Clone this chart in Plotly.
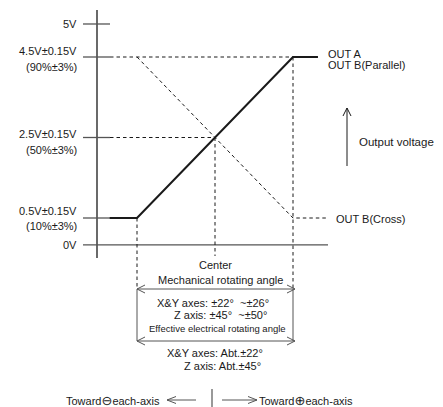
import plotly.graph_objects as go

# ---------------- data (schematic units) ----------------
# x: rotation angle, normalised so the effective electrical angle ends are at -1 / +1
# y: output voltage level positions on the diagram
level_names = ["0V", "0.5V", "2.5V", "4.5V", "5V"]
level_pos = [-0.17, 0.5, 2.5, 4.5, 5.32]
level_text1 = ["0V", "0.5V±0.15V", "2.5V±0.15V", "4.5V±0.15V", "5V"]
level_text2 = ["", "(10%±3%)", "(50%±3%)", "(90%±3%)", ""]

out_a_x = [-1.35, -1.0, 1.0, 1.32]
out_a_y = [0.5, 0.5, 4.5, 4.5]

out_b_cross_x = [-1.0, 1.0, 1.45]
out_b_cross_y = [4.5, 0.5, 0.5]

elec_angle = [-1.0, 1.0]
center_angle = 0.0

# ---------------- pixel helpers for layout ----------------
W, H = 443, 407
X0PX, XSC = 215.0, 78.0      # px of x=0, px per unit
Y0PX, YSC = 218.0, 40.25     # px of y=0.5, px per volt


def ux(px):
    return (px - X0PX) / XSC


def vy(py):
    return 0.5 + (Y0PX - py) / YSC


FONT = "Liberation Sans, Arial, sans-serif"
INK = "#1a1a1a"
GRAY = "#555555"

fig = go.Figure()

shapes = []


def line(x0, y0, x1, y1, color=INK, width=1.0, dash="solid"):
    shapes.append(dict(type="line", xref="x", yref="y", x0=x0, y0=y0, x1=x1, y1=y1,
                       line=dict(color=color, width=width, dash=dash), layer="below"))


def chevron(xt, yt, dx, dy, color=INK, width=1.0, L=8, Hh=4):
    # open arrowhead with tip at (xt, yt) pointing in pixel direction (dx, dy)
    import math
    n = math.hypot(dx, dy)
    dx, dy = dx / n, dy / n
    tx = X0PX + xt * XSC
    ty = Y0PX - (yt - 0.5) * YSC
    bx, by = tx - dx * L, ty - dy * L
    px_, py_ = -dy, dx
    p1 = (bx + px_ * Hh, by + py_ * Hh)
    p2 = (bx - px_ * Hh, by - py_ * Hh)
    path = "M {} {} L {} {} L {} {}".format(ux(p1[0]), vy(p1[1]), xt, yt, ux(p2[0]), vy(p2[1]))
    shapes.append(dict(type="path", xref="x", yref="y", path=path,
                       line=dict(color=color, width=width)))


axis_x = ux(97)
tick_l, tick_r = ux(83), ux(110)

# vertical voltage axis
line(axis_x, vy(10), axis_x, vy(258), color=INK, width=1.3)

# level ticks
for name, pos in zip(level_names, level_pos):
    xr = ux(328) if name == "0V" else tick_r
    line(tick_l, pos, xr, pos, color=GRAY, width=1.3)

# dashed guides
DASH = "3.5px,3px"
line(tick_r, 4.5, elec_angle[1], 4.5, color=INK, width=1.0, dash=DASH)
line(tick_r, 2.5, center_angle, 2.5, color=INK, width=1.0, dash=DASH)
line(center_angle, 2.5, center_angle, vy(256), color=INK, width=1.0, dash=DASH)

mech_y = vy(289)
elec_y = vy(341)
line(elec_angle[0], 0.5, elec_angle[0], mech_y, color=INK, width=1.0, dash=DASH)
line(elec_angle[1], 4.5, elec_angle[1], mech_y, color=INK, width=1.0, dash=DASH)
line(elec_angle[0], mech_y, elec_angle[0], elec_y, color=GRAY, width=1.0)
line(elec_angle[1], mech_y, elec_angle[1], elec_y, color=GRAY, width=1.0)

# double arrows
mx0, mx1 = elec_angle[0], ux(295)
line(mx0, mech_y, mx1, mech_y, color=GRAY, width=1.0)
chevron(mx0, mech_y, -1, 0, color=GRAY)
chevron(mx1, mech_y, 1, 0, color=GRAY)
line(mx0, elec_y, mx1, elec_y, color=GRAY, width=1.0)
chevron(mx0, elec_y, -1, 0, color=GRAY)
chevron(mx1, elec_y, 1, 0, color=GRAY)

# output voltage arrow
ov_x = ux(347)
line(ov_x, vy(166), ov_x, vy(108), color=INK, width=1.0)
chevron(ov_x, vy(108), 0, -1, color=INK)

# bottom direction arrows
by_ = vy(400)
line(ux(196), by_, ux(167), by_, color=GRAY, width=1.0)
chevron(ux(167), by_, -1, 0, color=GRAY, L=9, Hh=3.5)
line(ux(212), vy(389), ux(212), vy(407), color=GRAY, width=1.2)
line(ux(222), by_, ux(257), by_, color=GRAY, width=1.0)
chevron(ux(257), by_, 1, 0, color=GRAY, L=9, Hh=3.5)

# output traces
fig.add_trace(go.Scatter(x=out_a_x, y=out_a_y, mode="lines",
                         line=dict(color=INK, width=2.1), hoverinfo="skip", showlegend=False))
fig.add_trace(go.Scatter(x=out_b_cross_x, y=out_b_cross_y, mode="lines",
                         line=dict(color=INK, width=1.0, dash=DASH), hoverinfo="skip", showlegend=False))

# ---------------- text ----------------
ann = []


def text(t, xpx, ypx, anchor="left", size=11, color=INK):
    ann.append(dict(text=t, x=ux(xpx), y=vy(ypx), xref="x", yref="y", showarrow=False,
                    xanchor=anchor, yanchor="middle",
                    font=dict(family=FONT, size=size, color=color)))


label_y1 = {"0V": 245, "0.5V": 211, "2.5V": 134, "4.5V": 51, "5V": 24}
label_y2 = {"0.5V": 226, "2.5V": 150, "4.5V": 67}
for name, t1, t2 in zip(level_names, level_text1, level_text2):
    text(t1, 79, label_y1[name], anchor="right")
    if t2:
        text(t2, 79, label_y2[name], anchor="right")

text("OUT A", 326, 54)
text("OUT B(Parallel)", 326, 65)
text("OUT B(Cross)", 334, 219)
text("Output voltage", 357, 142, size=11.5)

text("Center", 215, 265, anchor="center")
text("Mechanical rotating angle", 220, 280, anchor="center")
text("X&Y axes: ±22°\u00a0\u00a0~±26°", 155, 303)
text("Z axis: ±45°\u00a0\u00a0~±50°", 172, 315)
text("Effective electrical rotating angle", 217, 328, anchor="center", size=9.5)
text("X&Y axes: Abt.±22°", 165, 353)
text("Z axis: Abt.±45°", 182, 366)

SYM = '<span style="font-family:DejaVu Sans;font-size:13px">{}</span>'
text("Toward" + SYM.format("⊖") + "each-axis", 162, 400, anchor="right")
text("Toward" + SYM.format("⊕") + "each-axis", 257, 400)

fig.update_layout(
    width=W, height=H,
    margin=dict(l=0, r=0, t=0, b=0),
    paper_bgcolor="white", plot_bgcolor="white",
    xaxis=dict(range=[ux(0), ux(W)], visible=False, fixedrange=True),
    yaxis=dict(range=[vy(H), vy(0)], visible=False, fixedrange=True),
    shapes=shapes, annotations=ann,
    showlegend=False,
)

fig.write_html("out.html", config={"displayModeBar": False},
               post_script="document.body.style.margin='0';")
